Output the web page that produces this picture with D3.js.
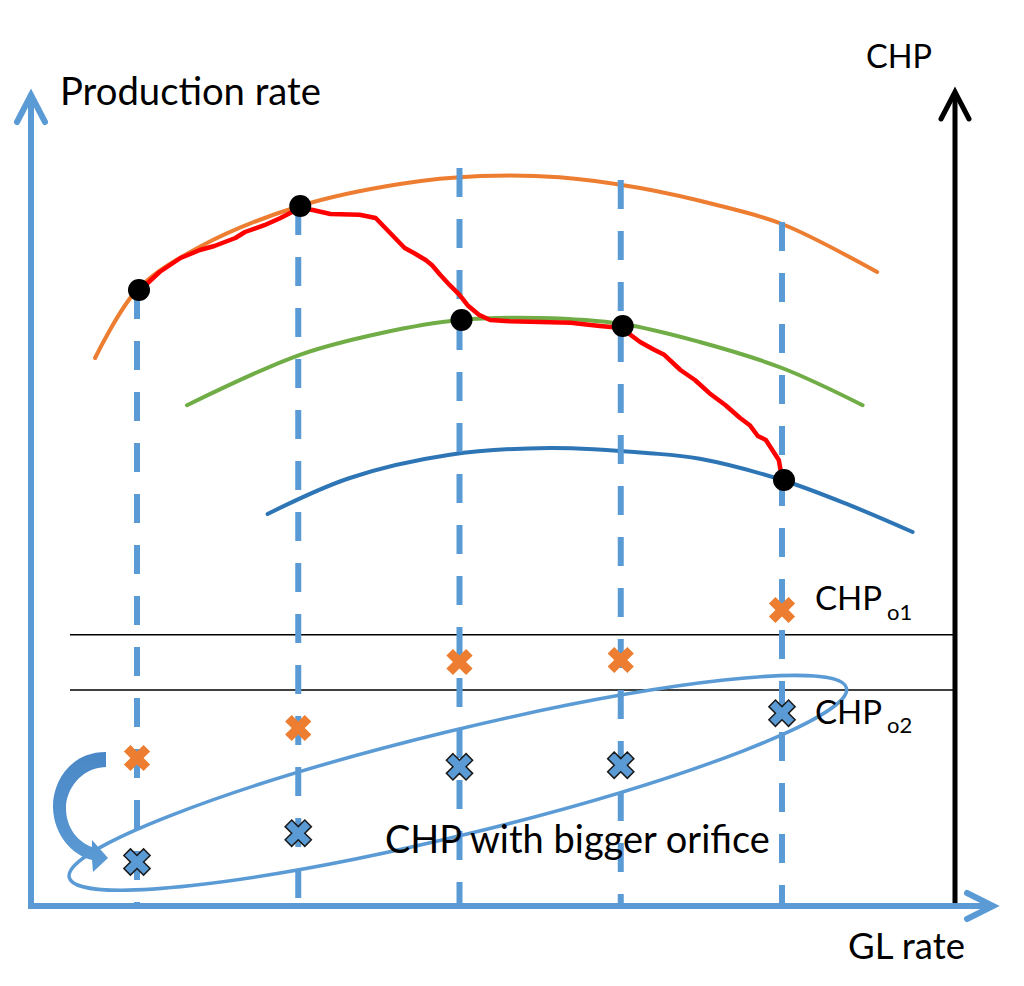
<!DOCTYPE html>
<html><head><meta charset="utf-8">
<script src="https://cdn.jsdelivr.net/npm/d3@7"></script>
<style>
body{margin:0;background:#fff}
svg{display:block}
text{font-family:Lato,"Open Sans",sans-serif;fill:#000}
</style>
</head><body>
<svg id="chart" width="1024" height="986"></svg>
<script>
// ---------------- data ----------------
const glRates      = [1, 2, 3, 4, 5];                 // GL injection rates (vertical dashed lines)
const opPointProd  = [77, 87.5, 73.25, 72.5, 53.25];   // black operating points
const dashTopProd  = [77, 87.5, 92.25, 90.75, 85.5];   // top of each dashed line
const chpOrifice1  = [18.5, 22.25, 30.5, 30.75, 37];   // orange crosses (CHP, orifice 1)
const chpOrifice2  = [5.5, 9.1, 17.4, 17.6, 24.1];     // blue crosses (CHP, bigger orifice)
const chpLevels    = [33.9, 27.0];                     // CHPo1, CHPo2 horizontal limits

const orangeGL   = [0.74, 1.0, 1.39, 2.01, 2.63, 3.13, 3.62, 4.12, 4.62, 5.0, 5.59];
const orangeProd = [68.5, 77, 82.4, 87.5, 90.25, 91.25, 91.1, 89.75, 87.5, 85.25, 79.25];
const greenGL    = [1.31, 2.01, 2.51, 3.0, 3.5, 4.01, 4.49, 5.0, 5.5];
const greenProd  = [62.6, 68.9, 71.6, 73.25, 73.5, 72.75, 70.5, 67.25, 62.6];
const blueGL     = [1.81, 2.32, 2.94, 3.56, 4.18, 4.49, 5.0, 5.42, 5.81];
const blueProd   = [49, 53.5, 56.4, 57.25, 56.6, 55.9, 53.25, 50.1, 46.75];

const redGL   = [1.02,1.14,1.27,1.39,1.48,1.61,1.67,1.79,1.89,2.01,2.09,2.2,2.38,2.48,2.54,2.6,2.66,2.72,2.79,2.83,2.88,2.94,3.0,3.05,3.12,3.19,3.31,3.5,3.69,3.87,4.01,4.06,4.12,4.21,4.27,4.37,4.46,4.55,4.65,4.74,4.8,4.85,4.9,4.94,4.98,5.0];
const redProd = [77,79.25,81,82,82.5,83.5,84.25,85.1,86,87.25,87,86.5,86.4,86,84.75,83.5,82.25,81.6,80.75,80.1,78.9,77.6,76.4,75.1,73.9,73.25,73.1,73,72.9,72.5,72.25,71.4,70.5,69.5,68.9,67,65.75,64.1,62.6,61,60.1,58.75,58.25,57,55.75,53.5];

const ellipseCenter = [2.99, 15.4];  // [GL, prod] of the "bigger orifice" ellipse

const labels = {
  yAxis: "Production rate", xAxis: "GL rate", rAxis: "CHP",
  bigger: "CHP with bigger orifice", o1: "o1", o2: "o2"
};

// ---------------- layout ----------------
const svg = d3.select("#chart");
const x = d3.scaleLinear().domain([1, 5]).range([137, 782]);
const y = d3.scaleLinear().domain([0, 100]).range([906, 106]);
const AX = {left: 31, bottom: 906, right: 955, xEnd: 993, top: 95, rTop: 92, hStart: 70};
const C = {blue: "#5B9BD5", orange: "#ED7D31", green: "#70AD47", dblue: "#2E75B6", red: "#FF0000"};

// horizontal CHP limit lines
svg.selectAll("line.lvl").data(chpLevels).join("line")
  .attr("x1", AX.hStart).attr("x2", AX.right)
  .attr("y1", d => y(d)).attr("y2", d => y(d))
  .attr("stroke", "#000").attr("stroke-width", 1.5);

// performance curves
const curve = d3.line().x(d => x(d[0])).y(d => y(d[1])).curve(d3.curveCatmullRom.alpha(0.5));
[[orangeGL, orangeProd, C.orange], [greenGL, greenProd, C.green], [blueGL, blueProd, C.dblue]]
  .forEach(([gx, gp, col]) => {
    svg.append("path").attr("d", curve(gx.map((g, i) => [g, gp[i]])))
      .attr("fill", "none").attr("stroke", col).attr("stroke-width", 4).attr("stroke-linecap", "round");
  });

// dashed vertical lines
svg.selectAll("line.dash").data(glRates).join("line")
  .attr("x1", d => x(d)).attr("x2", d => x(d))
  .attr("y1", (d, i) => y(dashTopProd[i])).attr("y2", AX.bottom - 3)
  .attr("stroke", C.blue).attr("stroke-width", 6).attr("stroke-dasharray", "29,22");

// ellipse (bigger orifice group)
svg.append("ellipse")
  .attr("cx", 0).attr("cy", 0).attr("rx", 400).attr("ry", 52)
  .attr("transform", `translate(${x(ellipseCenter[0])},${y(ellipseCenter[1])}) rotate(-13.7)`)
  .attr("fill", "none").attr("stroke", C.blue).attr("stroke-width", 3.5);

// red operating trajectory
const red = d3.line().x(d => x(d[0])).y(d => y(d[1])).curve(d3.curveLinear);
svg.append("path").attr("d", red(redGL.map((g, i) => [g, redProd[i]])))
  .attr("fill", "none").attr("stroke", C.red).attr("stroke-width", 4.5)
  .attr("stroke-linejoin", "round").attr("stroke-linecap", "round");

// operating points
svg.selectAll("circle.op").data(glRates).join("circle")
  .attr("cx", d => x(d) + 2).attr("cy", (d, i) => y(opPointProd[i])).attr("r", 11)
  .attr("fill", "#000");

// cross markers
const cross = d3.symbol(d3.symbolCross, 430);
svg.selectAll("path.o1").data(glRates).join("path")
  .attr("d", cross).attr("transform", (d, i) => `translate(${x(d)},${y(chpOrifice1[i])}) rotate(45)`)
  .attr("fill", C.orange);
svg.selectAll("path.o2").data(glRates).join("path")
  .attr("d", cross).attr("transform", (d, i) => `translate(${x(d)},${y(chpOrifice2[i])}) rotate(45)`)
  .attr("fill", C.blue).attr("stroke", "#1a1a1a").attr("stroke-width", 1.5);

// curved block arrow from orange cross to blue cross at first GL rate
const ox = x(glRates[0]), oy = y(chpOrifice1[0]);
const p = d3.path();
const P = (dx, dy) => [ox + dx, oy + dy];
p.moveTo(...P(-31, -6));
p.bezierCurveTo(...P(-69, -6), ...P(-85, 27), ...P(-84, 50));
p.bezierCurveTo(...P(-83, 77), ...P(-65, 97), ...P(-45, 102));
p.lineTo(...P(-44, 114));
p.lineTo(...P(-29, 100));
p.lineTo(...P(-45, 82));
p.lineTo(...P(-45, 89));
p.bezierCurveTo(...P(-59, 84), ...P(-71, 70), ...P(-71, 50));
p.bezierCurveTo(...P(-71, 32), ...P(-57, 10), ...P(-31, 9));
p.closePath();
const grad = svg.append("defs").append("linearGradient").attr("id", "ag")
  .attr("x1", 0).attr("y1", 0).attr("x2", 0).attr("y2", 1);
grad.append("stop").attr("offset", 0).attr("stop-color", "#4a87c6");
grad.append("stop").attr("offset", 1).attr("stop-color", "#5B9BD5");
svg.append("path").attr("d", p.toString()).attr("fill", "url(#ag)");

// axes
svg.append("line").attr("x1", AX.left).attr("x2", AX.left).attr("y1", AX.bottom).attr("y2", AX.top + 2)
  .attr("stroke", C.blue).attr("stroke-width", 6);
svg.append("polyline").attr("points", `${AX.left-14},${AX.top+27} ${AX.left},${AX.top} ${AX.left+14},${AX.top+27}`)
  .attr("fill", "none").attr("stroke", C.blue).attr("stroke-width", 6).attr("stroke-linecap", "round");
svg.append("line").attr("x1", AX.right).attr("x2", AX.right).attr("y1", AX.bottom - 3).attr("y2", AX.rTop + 2)
  .attr("stroke", "#000").attr("stroke-width", 5);
svg.append("polyline").attr("points", `${AX.right-14},${AX.rTop+27} ${AX.right},${AX.rTop} ${AX.right+14},${AX.rTop+27}`)
  .attr("fill", "none").attr("stroke", "#000").attr("stroke-width", 5).attr("stroke-linecap", "round");
svg.append("line").attr("x1", AX.left - 3).attr("x2", AX.xEnd - 2).attr("y1", AX.bottom).attr("y2", AX.bottom)
  .attr("stroke", C.blue).attr("stroke-width", 6);
svg.append("polyline").attr("points", `${AX.xEnd-26},${AX.bottom-13} ${AX.xEnd},${AX.bottom} ${AX.xEnd-26},${AX.bottom+13}`)
  .attr("fill", "none").attr("stroke", C.blue).attr("stroke-width", 6).attr("stroke-linecap", "round");

// text with width fitting
function fitText(sel, target) {
  const w = sel.node().getComputedTextLength();
  const fs = parseFloat(sel.attr("font-size"));
  sel.attr("font-size", fs * target / w);
  return sel;
}
function label(txt, tx, ty, target) {
  return fitText(svg.append("text").attr("x", tx).attr("y", ty).attr("font-size", 36).text(txt), target);
}
label(labels.yAxis, 60, 105, 261);
label(labels.rAxis, 866, 68, 66);
label(labels.xAxis, 848, 959, 117);
label(labels.bigger, 385, 853, 385);
[[labels.o1, 610, 620], [labels.o2, 724, 733]].forEach(([sub, by, sy]) => {
  const t = svg.append("text").attr("x", 815).attr("y", by).attr("font-size", 33).text(labels.rAxis);
  const w = t.node().getComputedTextLength();
  svg.append("text").attr("x", 815 + w + 5).attr("y", sy).attr("font-size", 22).text(sub);
});
</script>
</body></html>
